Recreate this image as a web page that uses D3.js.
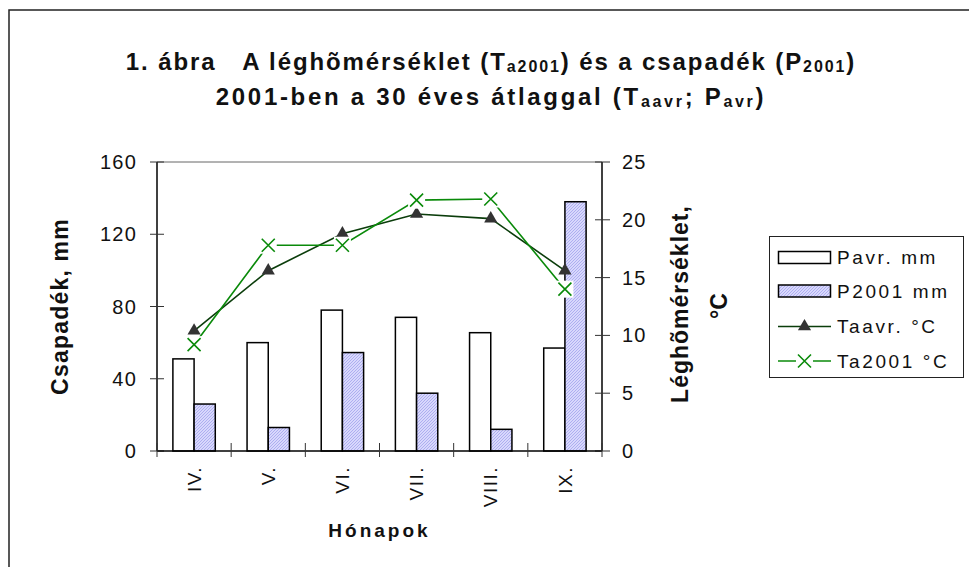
<!DOCTYPE html>
<html><head><meta charset="utf-8">
<script src="https://cdn.jsdelivr.net/npm/d3@7/dist/d3.min.js"></script>
<style>
body{margin:0;background:#fff;}
svg{display:block;font-family:"Liberation Sans",Arial,sans-serif;}
</style></head>
<body><svg id="c" width="969" height="567"></svg>
<script>
const months = ["IV.","V.","VI.","VII.","VIII.","IX."];
const pAvr = [51, 60, 78, 74, 65.5, 57];
const p2001 = [26, 13, 54.5, 32, 12, 138];
const taAvr = [10.4, 15.6, 18.8, 20.5, 20.1, 15.6];
const ta2001 = [9.2, 17.8, 17.8, 21.7, 21.8, 14.0];
const leftTicks = [0, 40, 80, 120, 160];
const rightTicks = [0, 5, 10, 15, 20, 25];
const legendLabels = ["Pavr. mm", "P2001 mm", "Taavr. °C", "Ta2001 °C"];

const svg = d3.select("#c");
const L = 157, R = 602, T = 162, B = 451;

// outer border
svg.append("rect").attr("x",9).attr("y",10).attr("width",1000).attr("height",600)
  .attr("fill","none").attr("stroke","#222").attr("stroke-width",1.5);

// hatch pattern
const defs = svg.append("defs");
const pat = defs.append("pattern").attr("id","hatch").attr("patternUnits","userSpaceOnUse")
  .attr("width",3).attr("height",3);
pat.append("rect").attr("width",3).attr("height",3).attr("fill","#d8d8fc");
pat.append("path").attr("d","M0,3 L3,0 M-1,1 L1,-1 M2,4 L4,2").attr("stroke","#aeaef0").attr("stroke-width",1);

const x = d3.scaleBand().domain(months).range([L,R]);
const yL = d3.scaleLinear().domain([0,160]).range([B,T]);
const yR = d3.scaleLinear().domain([0,25]).range([B,T]);
const bw = x.bandwidth();
const barW = bw/3.5;
const xs = d3.scaleBand().domain(["a","b"]).range([0, 2*barW]);

// plot top border
svg.append("line").attr("x1",L).attr("x2",R).attr("y1",T).attr("y2",T).attr("stroke","#666").attr("stroke-width",1);

// bars
const g = svg.append("g");
months.forEach((m,i)=>{
  const cx = x(m) + bw/2 - barW;
  g.append("rect").attr("x", cx + xs("a")).attr("y", yL(pAvr[i])).attr("width", barW).attr("height", B - yL(pAvr[i]))
    .attr("fill","#fff").attr("stroke","#000").attr("stroke-width",1.5);
  g.append("rect").attr("x", cx + xs("b")).attr("y", yL(p2001[i])).attr("width", barW).attr("height", B - yL(p2001[i]))
    .attr("fill","url(#hatch)").attr("stroke","#000").attr("stroke-width",1.5);
});

// axes
const gl = svg.append("g").attr("transform",`translate(${L},0)`);
gl.append("line").attr("y1",T).attr("y2",B).attr("stroke","#000").attr("stroke-width",1.5);
leftTicks.forEach(v=>{
  gl.append("line").attr("x1",-7).attr("x2",7).attr("y1",yL(v)).attr("y2",yL(v)).attr("stroke","#333").attr("stroke-width",1);
  gl.append("text").attr("x",-20).attr("y",yL(v)).attr("dy","0.35em").attr("text-anchor","end")
    .attr("font-size",20).attr("letter-spacing",1.2).attr("fill","#111").text(v);
});
const gr = svg.append("g").attr("transform",`translate(${R},0)`);
gr.append("line").attr("y1",T).attr("y2",B).attr("stroke","#000").attr("stroke-width",1.5);
rightTicks.forEach(v=>{
  gr.append("line").attr("x1",-7).attr("x2",8).attr("y1",yR(v)).attr("y2",yR(v)).attr("stroke","#333").attr("stroke-width",1);
  gr.append("text").attr("x",20).attr("y",yR(v)).attr("dy","0.35em").attr("text-anchor","start")
    .attr("font-size",20).attr("letter-spacing",1.2).attr("fill","#111").text(v);
});
// x axis
const gx = svg.append("g");
gx.append("line").attr("x1",L).attr("x2",R).attr("y1",B).attr("y2",B).attr("stroke","#000").attr("stroke-width",1.5);
const bounds = months.map(m=>x(m)).concat([R]);
bounds.forEach(bx=>{
  gx.append("line").attr("x1",bx).attr("x2",bx).attr("y1",B-8).attr("y2",B+6).attr("stroke","#333").attr("stroke-width",1);
});
months.forEach(m=>{
  const cx = x(m)+bw/2;
  gx.append("text").attr("transform",`translate(${cx},466) rotate(-90)`).attr("dy","0.35em")
    .attr("text-anchor","end").attr("font-size",19).attr("letter-spacing",1.5).attr("fill","#111").text(m);
});

// lines
const lineR = d3.line().x((d,i)=>x(months[i])+bw/2).y(d=>yR(d));
svg.append("path").attr("d", lineR(taAvr)).attr("fill","none").attr("stroke","#0b3d0b").attr("stroke-width",1.6);
const tri = d3.symbol().type(d3.symbolTriangle).size(75);
taAvr.forEach((v,i)=>{
  svg.append("path").attr("d",tri()).attr("transform",`translate(${x(months[i])+bw/2},${yR(v)})`).attr("fill","#333");
});
svg.append("path").attr("d", lineR(ta2001)).attr("fill","none").attr("stroke","#0a8a0a").attr("stroke-width",1.6);
function xMark(sel, cx, cy){
  sel.append("rect").attr("x",cx-8.5).attr("y",cy-8.5).attr("width",17).attr("height",17).attr("fill","#fff");
  sel.append("path").attr("d",`M${cx-6.5},${cy-6.5}L${cx+6.5},${cy+6.5}M${cx-6.5},${cy+6.5}L${cx+6.5},${cy-6.5}`)
    .attr("stroke","#0a8a0a").attr("stroke-width",1.6);
}
ta2001.forEach((v,i)=>xMark(svg, x(months[i])+bw/2, yR(v)));

// titles
const title = svg.append("text").attr("text-anchor","middle").attr("font-weight","bold").attr("font-size",24)
  .attr("fill","#111");
const t1 = title.append("tspan").attr("x",491).attr("y",70).attr("letter-spacing",1.9);
t1.append("tspan").text("1. ábra\u00a0\u00a0\u00a0A léghõmérséklet (T");
t1.append("tspan").attr("font-size",16).attr("dy",2).text("a2001");
t1.append("tspan").attr("dy",-2).text(") és a csapadék (P");
t1.append("tspan").attr("font-size",16).attr("dy",2).text("2001");
t1.append("tspan").attr("dy",-2).text(")");
const t2 = title.append("tspan").attr("x",491).attr("y",105).attr("letter-spacing",2.7);
t2.append("tspan").text("2001-ben a 30 éves átlaggal (T");
t2.append("tspan").attr("font-size",16).attr("dy",2).text("aavr");
t2.append("tspan").attr("dy",-2).text("; P");
t2.append("tspan").attr("font-size",16).attr("dy",2).text("avr");
t2.append("tspan").attr("dy",-2).text(")");

svg.append("text").attr("transform",`translate(60,${(T+B)/2}) rotate(-90)`).attr("dy","0.35em")
  .attr("text-anchor","middle").attr("font-weight","bold").attr("font-size",23).attr("letter-spacing",1.2).attr("fill","#111").text("Csapadék, mm");
svg.append("text").attr("transform",`translate(680,304) rotate(-90)`).attr("dy","0.35em")
  .attr("text-anchor","middle").attr("font-weight","bold").attr("font-size",23).attr("letter-spacing",1).attr("fill","#111").text("Léghõmérséklet,");
svg.append("text").attr("transform",`translate(719,306) rotate(-90)`).attr("dy","0.35em")
  .attr("text-anchor","middle").attr("font-weight","bold").attr("font-size",23).attr("fill","#111").text("°C");
svg.append("text").attr("x",(L+R)/2).attr("y",537).attr("text-anchor","middle").attr("font-weight","bold")
  .attr("font-size",19).attr("letter-spacing",3).attr("fill","#111").text("Hónapok");

// legend
const lg = svg.append("g");
lg.append("rect").attr("x",769.5).attr("y",236.5).attr("width",194).attr("height",141).attr("fill","#fff").attr("stroke","#222").attr("stroke-width",1);
const rows = [257.5, 291, 326.5, 361];
legendLabels.forEach((lab,i)=>{
  const y = rows[i];
  if(i===0 || i===1){
    lg.append("rect").attr("x",778.5).attr("y",y-6).attr("width",52).attr("height",12)
      .attr("fill", i===0?"#fff":"url(#hatch)").attr("stroke","#000").attr("stroke-width",1.5);
  } else if(i===2){
    lg.append("line").attr("x1",778).attr("x2",831).attr("y1",y).attr("y2",y).attr("stroke","#0b3d0b").attr("stroke-width",1.6);
    lg.append("path").attr("d",tri()).attr("transform",`translate(804.5,${y})`).attr("fill","#333");
  } else {
    lg.append("line").attr("x1",778).attr("x2",831).attr("y1",y).attr("y2",y).attr("stroke","#0a8a0a").attr("stroke-width",1.6);
    xMark(lg, 804.5, y);
  }
  lg.append("text").attr("x",837).attr("y",y).attr("dy","0.35em").attr("font-size",19).attr("letter-spacing",2.6)
    .attr("fill","#111").text(lab);
});
</script></body></html>
